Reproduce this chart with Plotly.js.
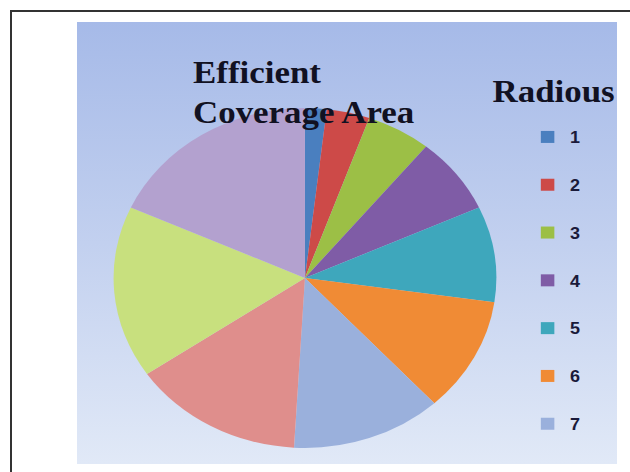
<!DOCTYPE html>
<html>
<head>
<meta charset="utf-8">
<script src="https://cdn.plot.ly/plotly-3.0.1.min.js"></script>
<style>
  html, body { margin: 0; padding: 0; background: #ffffff; width: 630px; height: 472px; overflow: hidden; }
  #frame {
    position: absolute; left: 10px; top: 10px; width: 700px; height: 600px;
    border-left: 2px solid #333333; border-top: 2px solid #333333;
  }
  #panel {
    position: absolute; left: 77px; top: 22px; width: 540px; height: 442px; overflow: hidden;
    background: linear-gradient(to bottom, #a6bae8 0%, #c2d0ef 50%, #e1e9f7 100%);
  }
  #chart {
    position: absolute; left: 0; top: 0; width: 560px; height: 600px;
    transform: scaleX(1.126); transform-origin: 0 0;
  }
</style>
</head>
<body>
<div id="frame"></div>
<div id="panel"><div id="chart"></div></div>
<script>
// Radius classes and their share of the efficient coverage area
const radiusLabels = ['1', '2', '3', '4', '5', '6', '7', '8', '9', '10'];
const coverageValues = [1, 2, 3, 4, 5, 6, 7, 8, 9, 10];
const sliceColors = ['#4a7fbf', '#cd4a48', '#9cbf46', '#7f5ca6', '#3ea7bc', '#f08b35',
                     '#9ab0dc', '#df8e8c', '#c8e07e', '#b3a1cf'];

const chartTitle = 'Efficient<br>Coverage Area';
const legendTitle = 'Radious';
// the legend column only has room for the first seven radius classes
const legendEntryCount = 7;

const serifBold = { family: '"Liberation Serif", "Times New Roman", serif', size: 31, color: '#111122', weight: 'bold' };

const pie = {
  type: 'pie',
  labels: radiusLabels,
  values: coverageValues,
  sort: false,
  direction: 'clockwise',
  rotation: 0,
  textinfo: 'none',
  hoverinfo: 'label+value',
  showlegend: false,
  marker: { colors: sliceColors, line: { width: 0 } },
  domain: { x: [0.058, 0.665], y: [0.29, 0.8567] }
};

// one legend entry per radius, each in its own group so the entries are spaced apart
const legendEntries = radiusLabels.map((lab, i) => ({
  type: 'bar',
  x: [null], y: [null],
  name: lab,
  legendgroup: 'r' + lab,
  marker: { color: sliceColors[i] },
  showlegend: i < legendEntryCount,
  hoverinfo: 'skip'
}));

const layout = {
  width: 560, height: 600,
  margin: { l: 0, r: 0, t: 0, b: 0, autoexpand: false },
  paper_bgcolor: 'rgba(0,0,0,0)',
  plot_bgcolor: 'rgba(0,0,0,0)',
  xaxis: { visible: false },
  yaxis: { visible: false },
  title: {
    text: chartTitle,
    x: 0.184, xref: 'paper', xanchor: 'left',
    y: 0.8985, yref: 'paper', yanchor: 'top',
    font: serifBold
  },
  annotations: [{
    text: legendTitle,
    xref: 'paper', yref: 'paper',
    x: 0.656, xanchor: 'left',
    y: 0.885, yanchor: 'middle',
    showarrow: false,
    font: serifBold
  }],
  legend: {
    x: 0.7106, xanchor: 'left',
    y: 0.8366, yanchor: 'top',
    bgcolor: 'rgba(0,0,0,0)',
    borderwidth: 0,
    traceorder: 'grouped',
    tracegroupgap: 24,
    font: { family: '"Liberation Sans", Arial, sans-serif', size: 16, color: '#1a1a3a', weight: 'bold' }
  },
  showlegend: true
};

Plotly.newPlot('chart', [pie].concat(legendEntries), layout, { staticPlot: true, displayModeBar: false });
</script>
</body>
</html>
